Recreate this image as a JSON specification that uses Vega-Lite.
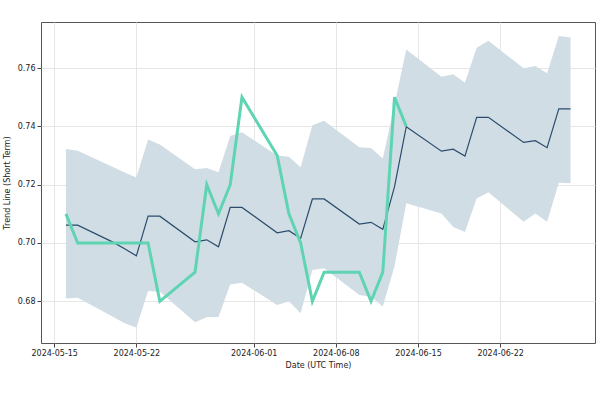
{
  "$schema": "https://vega.github.io/schema/vega-lite/v6.json",
  "width": 554,
  "height": 321,
  "autosize": {"type": "none"},
  "padding": {"left": 41, "top": 22, "right": 5, "bottom": 57},
  "background": "white",
  "config": {
    "font": "DejaVu Sans",
    "view": {"stroke": "#555555", "strokeWidth": 1},
    "axis": {
      "labelFont": "DejaVu Sans", "titleFont": "DejaVu Sans",
      "labelFontSize": 8, "titleFontSize": 8, "titleFontWeight": "normal",
      "labelColor": "#222222", "titleColor": "#222222",
      "gridColor": "#e6e6e6", "gridWidth": 1,
      "tickColor": "#444444", "tickSize": 4, "labelPadding": 2,
      "domain": false
    }
  },
  "data": {
    "values": [
      {"date": "2024-05-16", "trend": 0.7061, "upper": 0.7322, "lower": 0.6810, "actual": 0.71},
      {"date": "2024-05-17", "trend": 0.7061, "upper": 0.7316, "lower": 0.6812, "actual": 0.70},
      {"date": "2024-05-20", "trend": 0.7003, "upper": 0.7261, "lower": 0.6747, "actual": 0.70},
      {"date": "2024-05-21", "trend": 0.6980, "upper": 0.7242, "lower": 0.6725, "actual": 0.70},
      {"date": "2024-05-22", "trend": 0.6956, "upper": 0.7225, "lower": 0.6710, "actual": 0.70},
      {"date": "2024-05-23", "trend": 0.7092, "upper": 0.7355, "lower": 0.6835, "actual": 0.70},
      {"date": "2024-05-24", "trend": 0.7092, "upper": 0.7338, "lower": 0.6833, "actual": 0.68},
      {"date": "2024-05-27", "trend": 0.7004, "upper": 0.7253, "lower": 0.6728, "actual": 0.69},
      {"date": "2024-05-28", "trend": 0.7011, "upper": 0.7257, "lower": 0.6745, "actual": 0.72},
      {"date": "2024-05-29", "trend": 0.6987, "upper": 0.7243, "lower": 0.6746, "actual": 0.71},
      {"date": "2024-05-30", "trend": 0.7122, "upper": 0.7367, "lower": 0.6858, "actual": 0.72},
      {"date": "2024-05-31", "trend": 0.7122, "upper": 0.7380, "lower": 0.6864, "actual": 0.75},
      {"date": "2024-06-03", "trend": 0.7035, "upper": 0.7300, "lower": 0.6787, "actual": 0.73},
      {"date": "2024-06-04", "trend": 0.7042, "upper": 0.7296, "lower": 0.6800, "actual": 0.71},
      {"date": "2024-06-05", "trend": 0.7016, "upper": 0.7260, "lower": 0.6759, "actual": 0.70},
      {"date": "2024-06-06", "trend": 0.7151, "upper": 0.7404, "lower": 0.6907, "actual": 0.68},
      {"date": "2024-06-07", "trend": 0.7151, "upper": 0.7419, "lower": 0.6913, "actual": 0.69},
      {"date": "2024-06-10", "trend": 0.7065, "upper": 0.7328, "lower": 0.6822, "actual": 0.69},
      {"date": "2024-06-11", "trend": 0.7071, "upper": 0.7326, "lower": 0.6816, "actual": 0.68},
      {"date": "2024-06-12", "trend": 0.7047, "upper": 0.7290, "lower": 0.6782, "actual": 0.69},
      {"date": "2024-06-13", "trend": 0.7193, "upper": 0.7474, "lower": 0.6920, "actual": 0.75},
      {"date": "2024-06-14", "trend": 0.7399, "upper": 0.7664, "lower": 0.7136, "actual": 0.74},
      {"date": "2024-06-17", "trend": 0.7315, "upper": 0.7570, "lower": 0.7101, "actual": null},
      {"date": "2024-06-18", "trend": 0.7322, "upper": 0.7579, "lower": 0.7055, "actual": null},
      {"date": "2024-06-19", "trend": 0.7298, "upper": 0.7550, "lower": 0.7038, "actual": null},
      {"date": "2024-06-20", "trend": 0.7431, "upper": 0.7670, "lower": 0.7153, "actual": null},
      {"date": "2024-06-21", "trend": 0.7431, "upper": 0.7694, "lower": 0.7174, "actual": null},
      {"date": "2024-06-24", "trend": 0.7345, "upper": 0.7599, "lower": 0.7073, "actual": null},
      {"date": "2024-06-25", "trend": 0.7351, "upper": 0.7607, "lower": 0.7101, "actual": null},
      {"date": "2024-06-26", "trend": 0.7327, "upper": 0.7582, "lower": 0.7073, "actual": null},
      {"date": "2024-06-27", "trend": 0.7460, "upper": 0.7710, "lower": 0.7207, "actual": null},
      {"date": "2024-06-28", "trend": 0.7460, "upper": 0.7705, "lower": 0.7205, "actual": null}
    ]
  },
  "encoding": {
    "x": {
      "field": "date", "type": "temporal",
      "scale": {
        "type": "utc",
        "domain": [
          {"year": 2024, "month": 5, "date": 13, "hours": 21, "utc": true},
          {"year": 2024, "month": 6, "date": 30, "hours": 2, "utc": true}
        ]
      },
      "axis": {
        "title": "Date (UTC Time)",
        "labelExpr": "utcFormat(datum.value, '%Y-%m-%d')",
        "values": [
          {"year": 2024, "month": 5, "date": 15, "utc": true},
          {"year": 2024, "month": 5, "date": 22, "utc": true},
          {"year": 2024, "month": 6, "date": 1, "utc": true},
          {"year": 2024, "month": 6, "date": 8, "utc": true},
          {"year": 2024, "month": 6, "date": 15, "utc": true},
          {"year": 2024, "month": 6, "date": 22, "utc": true}
        ],
        "labelAngle": 0,
        "titlePadding": 4
      }
    }
  },
  "layer": [
    {
      "mark": {"type": "area", "color": "#d1dde5", "opacity": 1},
      "encoding": {
        "y": {
          "field": "lower", "type": "quantitative",
          "scale": {"domain": [0.6657, 0.7758], "nice": false, "zero": false},
          "axis": {
            "title": "Trend Line (Short Term)",
            "values": [0.68, 0.70, 0.72, 0.74, 0.76],
            "format": ".2f",
            "titlePadding": 6
          }
        },
        "y2": {"field": "upper"}
      }
    },
    {
      "mark": {"type": "line", "color": "#2b4c6d", "strokeWidth": 1.2},
      "encoding": {
        "y": {"field": "trend", "type": "quantitative"}
      }
    },
    {
      "transform": [{"filter": "datum.actual != null"}],
      "mark": {"type": "line", "color": "#5fd4b3", "strokeWidth": 3, "strokeJoin": "miter"},
      "encoding": {
        "y": {"field": "actual", "type": "quantitative"}
      }
    }
  ]
}
